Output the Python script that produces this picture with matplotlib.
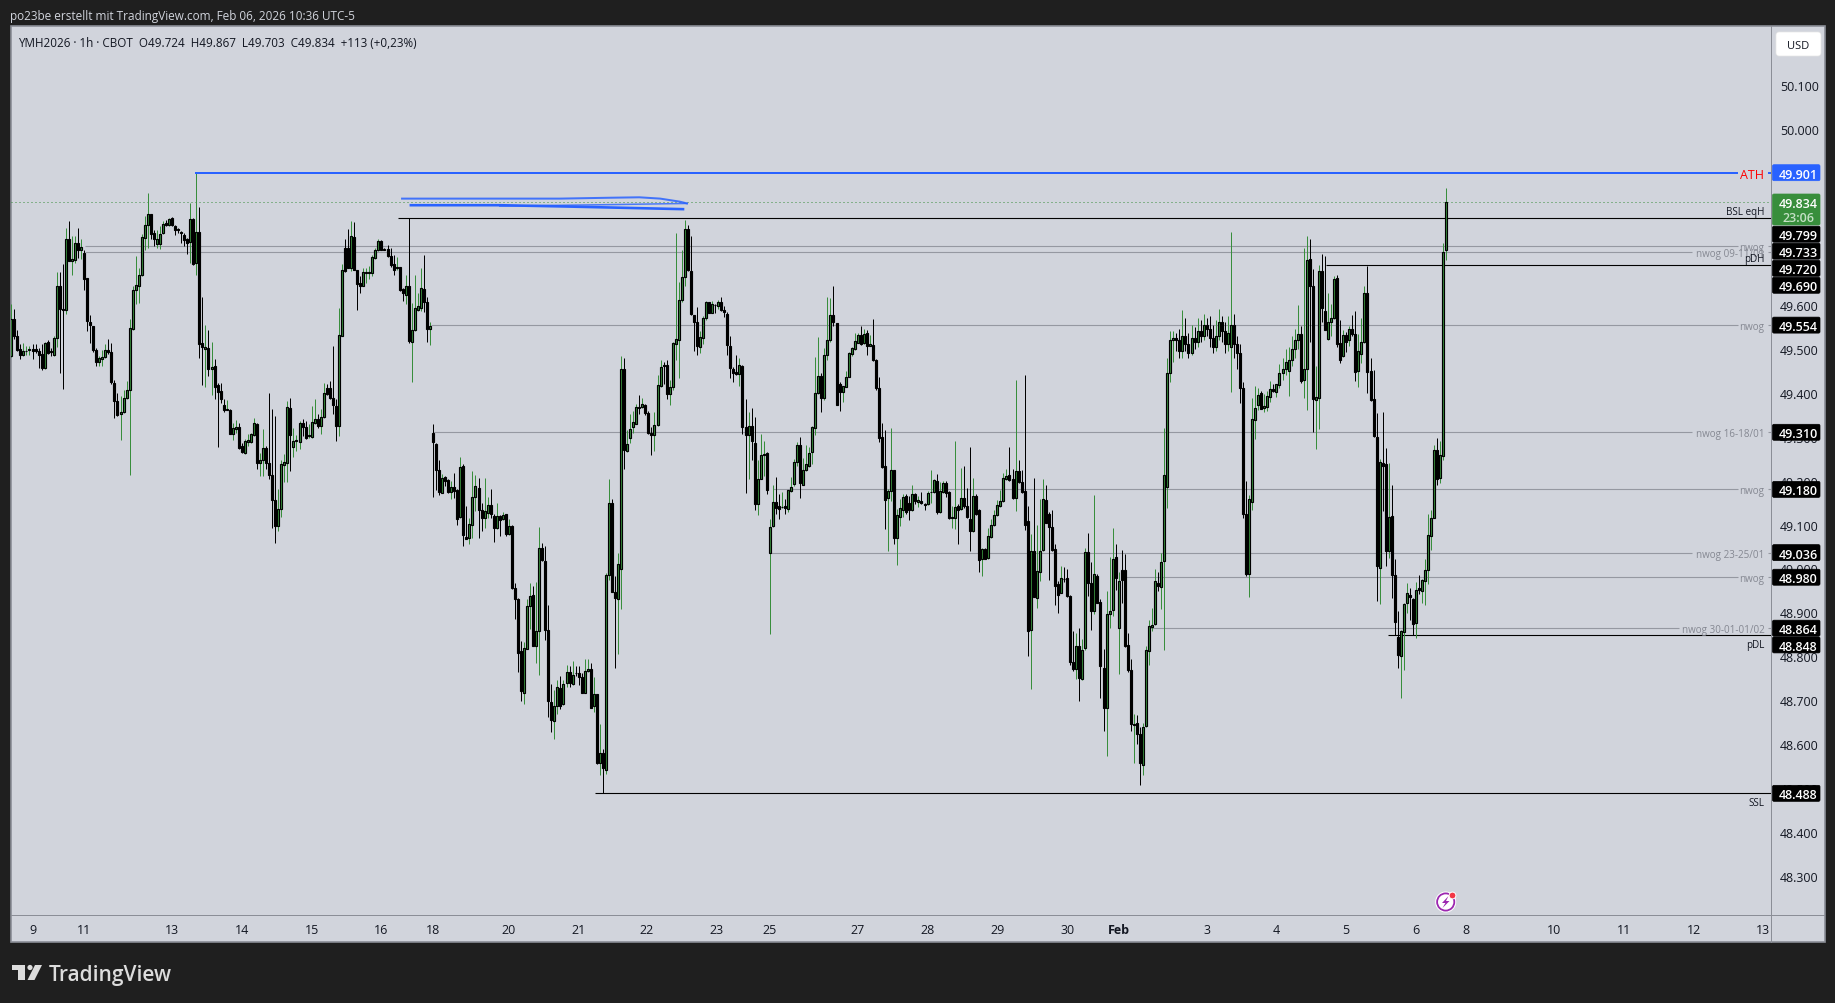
import numpy as np
import matplotlib
matplotlib.use("Agg")
import matplotlib.pyplot as plt
from matplotlib.patches import Rectangle, Circle, Polygon, FancyBboxPatch

# hourly candles, bar 0 is the first one on the left
opens = [
    49483, 49568, 49529, 49500, 49486, 49494, 49498, 49500, 49500, 49496,
    49489, 49456, 49515, 49494, 49486, 49524, 49642, 49591, 49589, 49750,
    49700, 49702, 49741, 49725, 49718, 49661, 49561, 49553, 49498, 49470,
    49477, 49481, 49498, 49492, 49423, 49382, 49351, 49356, 49389, 49406,
    49545, 49633, 49642, 49667, 49753, 49782, 49807, 49764, 49739, 49739,
    49763, 49786, 49782, 49797, 49780, 49773, 49765, 49760, 49749, 49744,
    49796, 49695, 49765, 49514, 49499, 49502, 49453, 49460, 49417, 49404,
    49373, 49360, 49360, 49306, 49318, 49323, 49279, 49263, 49288, 49288,
    49304, 49329, 49241, 49247, 49274, 49241, 49212, 49156, 49097, 49135,
    49236, 49241, 49366, 49277, 49290, 49288, 49332, 49323, 49301, 49300,
    49332, 49341, 49324, 49345, 49411, 49411, 49388, 49370, 49324, 49530,
    49730, 49730, 49684, 49755, 49680, 49650, 49644, 49672, 49673, 49673,
    49707, 49724, 49746, 49727, 49727, 49711, 49694, 49684, 49686, 49636,
    49623, 49642, 49515, 49542, 49588, 49593, 49637, 49606, 49545, 49309,
    49284, 49224, 49172, 49209, 49201, 49174, 49185, 49178, 49118, 49233,
    49072, 49069, 49098, 49163, 49184, 49133, 49115, 49127, 49145, 49119,
    49092, 49119, 49112, 49123, 49078, 49096, 48956, 48931, 48811, 48717,
    48817, 48915, 48940, 48824, 48858, 49047, 49018, 48861, 48697, 48653,
    48686, 48728, 48691, 48739, 48764, 48736, 48762, 48761, 48752, 48717,
    48766, 48772, 48686, 48715, 48556, 48579, 48541, 48986, 49149, 48947,
    48931, 48998, 49455, 49267, 49296, 49323, 49330, 49368, 49368, 49372,
    49355, 49308, 49304, 49326, 49415, 49464, 49464, 49397, 49412, 49512,
    49521, 49611, 49664, 49773, 49678, 49578, 49561, 49505, 49525, 49570,
    49606, 49581, 49600, 49597, 49607, 49588, 49579, 49507, 49455, 49447,
    49443, 49462, 49322, 49303, 49325, 49285, 49147, 49204, 49258, 49262,
    49036, 49097, 49152, 49142, 49139, 49142, 49136, 49177, 49192, 49243,
    49280, 49190, 49224, 49233, 49265, 49320, 49400, 49438, 49388, 49486,
    49520, 49577, 49559, 49420, 49401, 49413, 49436, 49488, 49500, 49513,
    49532, 49513, 49535, 49507, 49509, 49475, 49411, 49300, 49234, 49160,
    49176, 49225, 49069, 49118, 49134, 49166, 49150, 49133, 49170, 49152,
    49153, 49146, 49146, 49173, 49174, 49200, 49128, 49175, 49195, 49175,
    49115, 49115, 49142, 49136, 49160, 49142, 49112, 49085, 49166, 49134,
    49021, 49045, 49023, 49072, 49098, 49121, 49142, 49153, 49203, 49212,
    49203, 49160, 49222, 49197, 49176, 49109, 48860, 49040, 48933, 48992,
    49042, 49156, 49123, 49095, 49045, 48964, 48945, 48977, 48978, 48937,
    48786, 48772, 48824, 48749, 48818, 49037, 48966, 48902, 48983, 48924,
    48774, 48683, 48896, 48905, 49026, 48865, 48997, 48997, 48825, 48768,
    48643, 48649, 48622, 48553, 48642, 48812, 48867, 48873, 48968, 48958,
    49017, 49186, 49445, 49520, 49525, 49520, 49495, 49530, 49510, 49490,
    49525, 49515, 49540, 49530, 49555, 49545, 49525, 49505, 49530, 49560,
    49540, 49510, 49505, 49555, 49510, 49490, 49410, 49123, 48987, 49151,
    49339, 49372, 49400, 49366, 49368, 49391, 49409, 49401, 49417, 49445,
    49455, 49450, 49475, 49500, 49520, 49533, 49429, 49453, 49705, 49643,
    49383, 49389, 49678, 49587, 49523, 49561, 49570, 49662, 49514, 49484,
    49531, 49520, 49546, 49533, 49450, 49488, 49515, 49628, 49449, 49386,
    49300, 49002, 49240, 49237, 49040, 49119, 48986, 48845, 48801, 48856,
    48922, 48939, 48931, 48876, 48955, 48949, 48971, 48996, 49074, 49115,
    49269, 49207, 49257, 49724,
]
closes = [
    49568, 49529, 49498, 49486, 49495, 49495, 49500, 49495, 49495, 49486,
    49457, 49514, 49491, 49492, 49524, 49642, 49591, 49589, 49750, 49700,
    49705, 49741, 49726, 49731, 49658, 49563, 49554, 49497, 49471, 49479,
    49482, 49498, 49492, 49424, 49381, 49349, 49356, 49389, 49406, 49547,
    49633, 49645, 49667, 49755, 49782, 49807, 49761, 49749, 49749, 49761,
    49784, 49783, 49796, 49781, 49770, 49770, 49763, 49747, 49742, 49796,
    49694, 49765, 49510, 49504, 49504, 49453, 49458, 49414, 49401, 49385,
    49360, 49362, 49305, 49320, 49323, 49275, 49265, 49290, 49292, 49305,
    49332, 49241, 49247, 49274, 49239, 49212, 49156, 49097, 49135, 49237,
    49242, 49367, 49303, 49291, 49293, 49332, 49323, 49298, 49303, 49333,
    49341, 49324, 49345, 49399, 49398, 49389, 49371, 49324, 49532, 49679,
    49677, 49684, 49756, 49680, 49648, 49642, 49675, 49674, 49676, 49709,
    49726, 49746, 49726, 49726, 49711, 49692, 49680, 49686, 49635, 49626,
    49642, 49517, 49544, 49593, 49597, 49639, 49606, 49545, 49551, 49287,
    49224, 49174, 49206, 49199, 49174, 49185, 49176, 49113, 49231, 49076,
    49068, 49101, 49163, 49188, 49133, 49115, 49131, 49145, 49125, 49092,
    49119, 49110, 49122, 49078, 49096, 48956, 48931, 48808, 48721, 48819,
    48915, 48937, 48824, 48858, 49046, 49019, 48861, 48698, 48655, 48686,
    48731, 48687, 48736, 48764, 48739, 48758, 48761, 48753, 48717, 48767,
    48770, 48683, 48715, 48556, 48579, 48546, 48986, 49149, 48947, 48933,
    49011, 49455, 49270, 49283, 49318, 49334, 49368, 49365, 49374, 49353,
    49308, 49304, 49327, 49417, 49459, 49461, 49397, 49414, 49514, 49523,
    49612, 49664, 49773, 49679, 49579, 49561, 49506, 49527, 49571, 49606,
    49581, 49603, 49599, 49607, 49588, 49583, 49508, 49456, 49445, 49443,
    49463, 49322, 49304, 49325, 49290, 49147, 49204, 49259, 49261, 49178,
    49095, 49152, 49138, 49136, 49141, 49138, 49178, 49186, 49243, 49282,
    49194, 49225, 49238, 49263, 49322, 49400, 49438, 49388, 49486, 49520,
    49577, 49560, 49372, 49401, 49415, 49436, 49491, 49502, 49517, 49532,
    49510, 49533, 49507, 49510, 49474, 49410, 49298, 49232, 49156, 49177,
    49225, 49069, 49121, 49137, 49163, 49129, 49133, 49170, 49153, 49155,
    49150, 49145, 49172, 49175, 49201, 49128, 49176, 49195, 49172, 49115,
    49116, 49141, 49134, 49161, 49142, 49118, 49085, 49166, 49123, 49019,
    49044, 49022, 49075, 49100, 49122, 49144, 49154, 49207, 49210, 49201,
    49160, 49222, 49197, 49174, 49099, 48858, 49040, 48934, 48995, 49040,
    49159, 49104, 49094, 49043, 48960, 48940, 48978, 48975, 48937, 48786,
    48772, 48824, 48751, 48815, 49037, 48966, 48902, 48987, 48922, 48777,
    48683, 48896, 48904, 49022, 48978, 48972, 48974, 48824, 48769, 48645,
    48645, 48622, 48556, 48640, 48815, 48868, 48872, 48972, 48960, 49015,
    49213, 49445, 49520, 49525, 49520, 49495, 49530, 49510, 49490, 49525,
    49515, 49540, 49530, 49555, 49545, 49525, 49505, 49530, 49560, 49540,
    49510, 49535, 49555, 49510, 49490, 49410, 49123, 48987, 49159, 49341,
    49365, 49396, 49363, 49370, 49392, 49409, 49403, 49419, 49445, 49455,
    49470, 49475, 49500, 49520, 49533, 49427, 49455, 49703, 49643, 49386,
    49391, 49678, 49593, 49544, 49561, 49570, 49659, 49510, 49474, 49531,
    49516, 49546, 49534, 49447, 49496, 49516, 49628, 49447, 49383, 49302,
    49005, 49242, 49233, 49040, 49118, 48985, 48878, 48802, 48858, 48920,
    48943, 48935, 48874, 48952, 48952, 48974, 48997, 49076, 49115, 49270,
    49204, 49259, 49721, 49834,
]
highs = [
    49603, 49591, 49544, 49510, 49514, 49506, 49506, 49510, 49510, 49502,
    49512, 49515, 49521, 49502, 49530, 49676, 49676, 49694, 49776, 49791,
    49756, 49756, 49775, 49749, 49726, 49661, 49578, 49553, 49502, 49483,
    49498, 49512, 49523, 49514, 49430, 49400, 49392, 49407, 49427, 49567,
    49642, 49712, 49684, 49762, 49802, 49855, 49807, 49771, 49771, 49779,
    49790, 49793, 49798, 49800, 49783, 49775, 49768, 49764, 49752, 49832,
    49798, 49901, 49823, 49618, 49555, 49542, 49515, 49477, 49423, 49423,
    49385, 49383, 49362, 49332, 49339, 49332, 49286, 49294, 49305, 49309,
    49343, 49332, 49263, 49317, 49279, 49400, 49363, 49348, 49180, 49248,
    49260, 49381, 49389, 49320, 49303, 49335, 49341, 49335, 49328, 49370,
    49385, 49351, 49362, 49423, 49419, 49426, 49507, 49385, 49593, 49694,
    49749, 49773, 49790, 49788, 49680, 49665, 49684, 49684, 49689, 49714,
    49730, 49750, 49747, 49730, 49737, 49730, 49714, 49709, 49686, 49639,
    49669, 49798, 49605, 49667, 49627, 49684, 49714, 49618, 49561, 49328,
    49286, 49248, 49214, 49210, 49203, 49200, 49218, 49180, 49253, 49237,
    49143, 49115, 49223, 49212, 49206, 49150, 49206, 49163, 49180, 49125,
    49148, 49121, 49129, 49125, 49113, 49098, 48966, 48933, 48835, 48833,
    48930, 48966, 48961, 48970, 49095, 49057, 49052, 48916, 48736, 48724,
    48745, 48754, 48746, 48780, 48777, 48789, 48778, 48777, 48761, 48793,
    48793, 48784, 48752, 48715, 48645, 48590, 48990, 49204, 49157, 48983,
    49036, 49484, 49480, 49315, 49351, 49358, 49374, 49394, 49389, 49374,
    49358, 49323, 49356, 49440, 49474, 49470, 49474, 49430, 49516, 49764,
    49652, 49726, 49794, 49781, 49758, 49578, 49596, 49541, 49574, 49608,
    49606, 49609, 49601, 49611, 49619, 49597, 49583, 49530, 49459, 49487,
    49478, 49464, 49385, 49357, 49366, 49345, 49248, 49305, 49291, 49265,
    49113, 49189, 49209, 49169, 49174, 49159, 49178, 49209, 49250, 49288,
    49300, 49252, 49280, 49277, 49325, 49482, 49527, 49444, 49502, 49618,
    49616, 49644, 49559, 49424, 49416, 49449, 49492, 49504, 49535, 49535,
    49553, 49545, 49542, 49532, 49567, 49476, 49436, 49332, 49316, 49180,
    49319, 49225, 49135, 49159, 49170, 49170, 49166, 49191, 49172, 49166,
    49175, 49150, 49176, 49225, 49203, 49214, 49197, 49199, 49199, 49176,
    49142, 49291, 49146, 49228, 49233, 49184, 49277, 49205, 49169, 49136,
    49047, 49047, 49091, 49112, 49134, 49156, 49178, 49218, 49227, 49276,
    49227, 49430, 49246, 49225, 49441, 49142, 49078, 49205, 49098, 49157,
    49203, 49191, 49128, 49134, 49055, 48971, 49006, 49004, 48998, 48939,
    48857, 48852, 48865, 48839, 49047, 49081, 49015, 49168, 48987, 48931,
    48816, 48948, 49026, 49091, 49055, 48993, 49041, 49032, 48852, 48793,
    48668, 48666, 48640, 48648, 48824, 48882, 48910, 48998, 48992, 49036,
    49319, 49480, 49540, 49540, 49535, 49545, 49589, 49570, 49535, 49555,
    49550, 49570, 49565, 49580, 49570, 49575, 49555, 49565, 49590, 49575,
    49560, 49575, 49767, 49580, 49530, 49510, 49425, 49200, 49168, 49388,
    49416, 49411, 49403, 49398, 49403, 49426, 49419, 49421, 49465, 49480,
    49500, 49505, 49530, 49545, 49600, 49552, 49730, 49758, 49749, 49682,
    49461, 49690, 49715, 49712, 49626, 49601, 49665, 49669, 49565, 49544,
    49538, 49553, 49578, 49587, 49533, 49571, 49644, 49688, 49480, 49451,
    49355, 49250, 49357, 49275, 49240, 49191, 49021, 48902, 48860, 48922,
    48966, 48955, 48933, 48969, 48984, 48975, 49021, 49125, 49134, 49282,
    49296, 49291, 49741, 49867,
]
lows = [
    49482, 49523, 49495, 49476, 49483, 49487, 49487, 49476, 49491, 49457,
    49451, 49454, 49489, 49483, 49483, 49504, 49445, 49409, 49580, 49700,
    49667, 49695, 49706, 49705, 49633, 49540, 49514, 49492, 49462, 49462,
    49462, 49479, 49489, 49421, 49342, 49347, 49292, 49353, 49385, 49213,
    49544, 49603, 49605, 49665, 49724, 49730, 49749, 49735, 49730, 49728,
    49762, 49780, 49780, 49779, 49760, 49764, 49741, 49735, 49717, 49695,
    49692, 49669, 49479, 49417, 49414, 49439, 49394, 49385, 49276, 49377,
    49357, 49360, 49305, 49292, 49309, 49273, 49262, 49260, 49279, 49286,
    49301, 49227, 49210, 49210, 49227, 49203, 49091, 49059, 49085, 49118,
    49197, 49197, 49222, 49253, 49267, 49271, 49301, 49295, 49298, 49298,
    49330, 49320, 49305, 49343, 49396, 49386, 49351, 49290, 49301, 49529,
    49674, 49684, 49677, 49680, 49589, 49626, 49642, 49650, 49658, 49665,
    49705, 49722, 49724, 49724, 49709, 49686, 49669, 49679, 49631, 49608,
    49601, 49514, 49424, 49540, 49586, 49586, 49583, 49515, 49508, 49162,
    49178, 49168, 49171, 49187, 49171, 49159, 49161, 49098, 49115, 49052,
    49066, 49055, 49070, 49131, 49070, 49085, 49093, 49115, 49115, 49060,
    49090, 49075, 49110, 49075, 49077, 48954, 48886, 48764, 48698, 48691,
    48816, 48863, 48824, 48784, 48757, 49018, 48837, 48662, 48628, 48611,
    48668, 48681, 48689, 48731, 48729, 48734, 48755, 48734, 48716, 48716,
    48764, 48683, 48673, 48554, 48529, 48488, 48532, 48973, 48946, 48774,
    48805, 48907, 49226, 49264, 49286, 49309, 49328, 49351, 49366, 49349,
    49305, 49258, 49267, 49324, 49414, 49421, 49386, 49371, 49406, 49474,
    49433, 49606, 49643, 49677, 49578, 49494, 49487, 49490, 49510, 49565,
    49581, 49581, 49581, 49591, 49586, 49573, 49487, 49434, 49424, 49441,
    49415, 49307, 49172, 49203, 49247, 49133, 49121, 49203, 49210, 49169,
    48850, 49094, 49123, 49112, 49138, 49123, 49128, 49175, 49188, 49233,
    49160, 49189, 49222, 49232, 49237, 49303, 49398, 49356, 49383, 49474,
    49515, 49553, 49371, 49358, 49380, 49412, 49435, 49483, 49498, 49513,
    49509, 49512, 49485, 49506, 49473, 49407, 49289, 49228, 49089, 49039,
    49153, 49055, 49007, 49097, 49116, 49123, 49110, 49131, 49146, 49141,
    49146, 49133, 49144, 49150, 49172, 49125, 49127, 49172, 49163, 49112,
    49093, 49089, 49055, 49134, 49138, 49115, 49040, 49083, 49122, 48992,
    48983, 49021, 49021, 49070, 49097, 49119, 49141, 49151, 49201, 49199,
    49159, 49131, 49195, 49172, 49087, 48801, 48725, 48934, 48910, 48971,
    49040, 49103, 48973, 49040, 48916, 48899, 48943, 48969, 48936, 48780,
    48766, 48748, 48699, 48746, 48815, 48937, 48860, 48896, 48921, 48706,
    48630, 48573, 48865, 48892, 48952, 48759, 48921, 48822, 48764, 48630,
    48558, 48600, 48507, 48530, 48638, 48780, 48858, 48871, 48949, 48907,
    48814, 49137, 49425, 49470, 49495, 49480, 49480, 49495, 49480, 49485,
    49500, 49505, 49515, 49520, 49530, 49505, 49490, 49495, 49520, 49515,
    49490, 49495, 49401, 49480, 49455, 49377, 49115, 48983, 48935, 49133,
    49294, 49360, 49362, 49357, 49358, 49380, 49401, 49391, 49410, 49430,
    49440, 49392, 49460, 49480, 49500, 49423, 49387, 49361, 49515, 49311,
    49271, 49317, 49562, 49542, 49521, 49529, 49568, 49504, 49467, 49481,
    49493, 49506, 49530, 49426, 49412, 49468, 49514, 49399, 49382, 49300,
    48926, 48918, 49131, 49005, 49023, 48932, 48849, 48773, 48705, 48769,
    48898, 48883, 48848, 48841, 48941, 48921, 48917, 48964, 49043, 49114,
    49191, 49195, 49248, 49703,
]

# levels drawn on the chart: price, first bar, last bar
level_prices = [49799, 49733, 49720, 49690, 49554, 49310, 49180, 49036, 48980, 48864, 48848, 48488]
level_starts = [127.5, 24.3, 24.3, 433.3, 138.3, 139, 251, 250, 366, 375, 453.8, 192.4]
level_ends = [580, 569, 554, 580, 569, 554, 569, 554, 569, 549.6, 580, 580]
level_black = [True, False, False, True, False, False, False, False, False, False, True, True]
level_names = ["BSL eqH", "nwog", "nwog 09-11/01", "pDH", "nwog", "nwog 16-18/01", "nwog",
               "nwog 23-25/01", "nwog", "nwog 30-01-01/02", "pDL", "SSL"]
name_shift = [-8, 0, 0, -8, 0, 0, 0, 0, 0, 0, 8, 8]

ath_price = 49901
last_price = 49834

# hand drawn blue strokes near the highs
stroke1_bars = [128.8, 180.8, 197.3, 207, 213.9, 220.4, 222.7]
stroke1_prices = [49842, 49842, 49844, 49845, 49842, 49835, 49831]
stroke2_bars = [131.7, 161, 183, 221.4]
stroke2_prices = [49827, 49827, 49824, 49818]
stroke3_bars = [161, 194, 222.7]
stroke3_prices = [49825, 49828, 49831]

price_ticks = [50100, 50000, 49600, 49500, 49400, 49300, 49200, 49100, 49000, 48900, 48800, 48700,
               48600, 48500, 48400, 48300]
day_ticks = [7, 24, 53, 76, 99, 122, 139, 164, 187, 209.5, 232.6, 250, 279, 302, 325, 348, 365, 394,
             417, 440, 463, 479.5, 508.5, 531.5, 554.5, 577.5]
day_labels = ["9", "11", "13", "14", "15", "16", "18", "20", "21", "22", "23", "25", "27", "28", "29",
              "30", "Feb", "3", "4", "5", "6", "8", "10", "11", "12", "13"]

tag_labels = ["49.799", "49.733", "49.720", "49.690", "49.554", "49.310", "49.180", "49.036", "48.980",
              "48.864", "48.848", "48.488"]
tag_prices = [49799, 49733, 49720, 49690, 49554, 49310, 49180, 49036, 48980, 48864, 48848, 48488]
tag_shift = [16.7, 4.7, 16.1, 19.9, 0, 0, 0, 0, 0, 0, 9.7, 0]

W, H = 1835, 1004
DARK = "#1f1f1f"
PANEL = "#d1d4dc"
EDGE = "#8b8e97"
GREEN = "#388e3c"
BLUE = "#2962ff"
GRAY = "#9598a1"
INK = "#131722"
FONT = "Open Sans"
PX = 0.72

plt.rcParams["font.family"] = [FONT, "DejaVu Sans"]

fig = plt.figure(figsize=(W / 100, H / 100), dpi=100, facecolor=DARK)

under = fig.add_axes([0, 0, 1, 1], zorder=0)
under.set_xlim(0, W)
under.set_ylim(H, 0)
under.axis("off")
under.add_patch(Rectangle((10.5, 27), 1814, 916, fc=PANEL, ec=EDGE, lw=1.2))
under.plot([1771, 1771], [27, 943], color=EDGE, lw=PX)
under.plot([10.5, 1824], [916, 916], color=EDGE, lw=PX)

ax = fig.add_axes([10.5 / W, 1 - 916 / H, (1771 - 10.5) / W, (916 - 27) / H], zorder=2)
ax.patch.set_alpha(0)
ax.set_xlim(-0.26, 580)
ax.set_ylim(48211, 50235)
for s in ax.spines.values():
    s.set_visible(False)

bars = np.arange(len(closes))
o = np.array(opens)
c = np.array(closes)
up = c >= o
wick_colors = [GREEN if u else "black" for u in up]
body_colors = [GREEN if u else "black" for u in up]

for lv, a, b, blk in zip(level_prices, level_starts, level_ends, level_black):
    ax.hlines(lv, a, b, color="black" if blk else GRAY, lw=PX * 1.1, zorder=1)
    if not blk:
        ax.hlines(lv, 579, 580, color=GRAY, lw=PX * 1.1, zorder=1)

ax.axhline(last_price, color=GREEN, lw=PX, ls=(0, (1, 3)), zorder=1)

ax.vlines(bars, lows, highs, color=wick_colors, lw=PX, zorder=2)
ax.bar(bars, np.abs(c - o), bottom=np.minimum(o, c), width=0.66, color=body_colors,
       edgecolor="black", linewidth=PX * 1.15, zorder=3)

ax.hlines(ath_price, 60.6, 569, color=BLUE, lw=PX * 2, zorder=4)
ax.hlines(ath_price, 579, 580, color=BLUE, lw=PX * 2, zorder=4)
ax.plot(stroke1_bars, stroke1_prices, color=BLUE, lw=PX * 2, alpha=0.85, zorder=4)
ax.plot(stroke2_bars, stroke2_prices, color=BLUE, lw=PX * 2.6, zorder=4)
ax.plot(stroke3_bars, stroke3_prices, color=BLUE, lw=PX * 1.5, alpha=0.8, zorder=4)

ax.yaxis.tick_right()
ax.set_yticks(price_ticks)
ax.set_yticklabels(["%d.%03d" % (p // 1000, p % 1000) for p in price_ticks])
ax.tick_params(axis="y", length=0, pad=6.6, labelsize=8.9, labelcolor=INK)
ax.set_xticks(day_ticks)
ax.set_xticklabels(day_labels)
ax.tick_params(axis="x", length=0, pad=5.8, labelsize=9, labelcolor=INK)
for t in ax.get_xticklabels():
    if t.get_text() == "Feb":
        t.set_fontweight("bold")

over = fig.add_axes([0, 0, 1, 1], zorder=5)
over.set_xlim(0, W)
over.set_ylim(H, 0)
over.axis("off")
over.patch.set_alpha(0)


def price_y(p):
    return H - ax.transData.transform((0, p))[1]


# right hand price tags
def tag(y, label, color):
    over.add_patch(FancyBboxPatch((1772.5, y - 8), 47.5, 16, boxstyle="round,pad=0,rounding_size=1.5",
                                  fc=color, ec=color, lw=0.5, zorder=6))
    over.text(1798, y, label, color="white", fontsize=9, fontweight="semibold",
              ha="center", va="center_baseline", zorder=7)


for lab, p, sh in zip(tag_labels, tag_prices, tag_shift):
    tag(price_y(p) + sh, lab, "black")
tag(price_y(ath_price), "49.901", BLUE)

over.add_patch(FancyBboxPatch((1772.5, 195), 47.5, 31, boxstyle="round,pad=0,rounding_size=1.5",
                              fc=GREEN, ec=GREEN, lw=0.5, zorder=6))
over.text(1798, 203.5, "49.834", color="white", fontsize=9, fontweight="semibold", ha="center",
          va="center_baseline", zorder=7)
over.text(1798, 217.5, "23:06", color="#c4e0c5", fontsize=9, fontweight="semibold", ha="center",
          va="center_baseline", zorder=7)

# level names, right aligned before the price scale
for lv, name, blk, sh in zip(level_prices, level_names, level_black, name_shift):
    y = price_y(lv) + sh
    over.text(1764.5, y, name, color=INK if blk else "#858892", fontsize=7.1, ha="right",
              va="center_baseline", zorder=5)
over.text(1763.5, price_y(ath_price), "ATH", color="#ff0000", fontsize=9, ha="right",
          va="center_baseline", zorder=5)

# header, legend, USD button
over.text(10, 15, "po23be erstellt mit TradingView.com, Feb 06, 2026 10:36 UTC-5", color=PANEL,
          fontsize=8.45, ha="left", va="center_baseline")
over.text(18, 42, "YMH2026 · 1h · CBOT  O49.724  H49.867  L49.703  C49.834  +113 (+0,23%)", color=INK,
          fontsize=8.4, ha="left", va="center_baseline")
over.add_patch(FancyBboxPatch((1776, 33), 45, 24, boxstyle="round,pad=0,rounding_size=3",
                              fc="white", ec="#e6e6e6", lw=0.5))
over.text(1798.5, 45, "USD", color=INK, fontsize=8, ha="center", va="center_baseline")

# TradingView logo
over.add_patch(Polygon([(12, 966), (25, 966), (25, 981), (18.3, 981), (18.3, 971), (12, 971)], fc="#dcdcdc"))
over.add_patch(Circle((30, 968.5), 2.6, fc="#dcdcdc"))
over.add_patch(Polygon([(35, 966), (42, 966), (34.5, 981), (27.5, 981)], fc="#dcdcdc"))
over.text(49, 973.5, "TradingView", color="#dcdcdc", fontsize=15, fontweight="semibold", ha="left",
          va="center_baseline")

# lightning badge
over.add_patch(Circle((1445.7, 903), 10.5, fc="white", ec="none", zorder=6))
over.add_patch(Circle((1445.7, 903), 8.6, fc="white", ec="#9c27b0", lw=1.3, zorder=6))
over.add_patch(Polygon([(1448.5, 897), (1442, 904), (1445.4, 904), (1442.5, 909), (1449.5, 902),
                        (1446, 902)], fc="#9c27b0", ec="none", zorder=7))
over.add_patch(Circle((1452.5, 896.5), 3.4, fc="#f23645", ec="white", lw=0.7, zorder=7))

fig.savefig("out.png", dpi=100, facecolor=DARK)
